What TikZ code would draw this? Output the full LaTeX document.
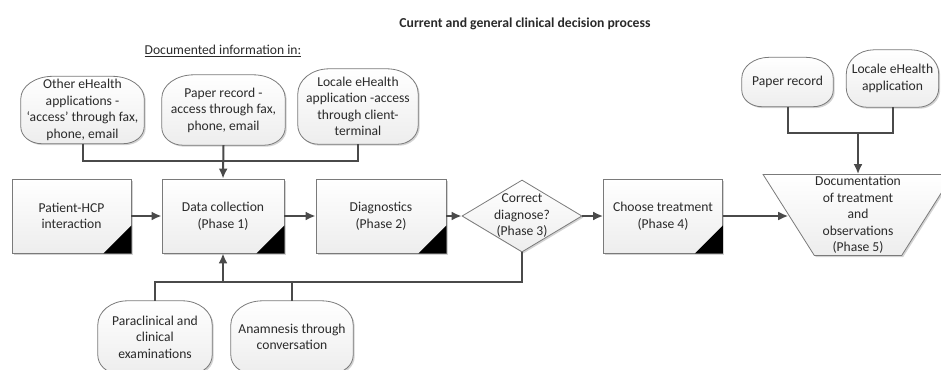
\documentclass[tikz,border=0pt]{standalone}
\usepackage{fontspec}
\setmainfont{Carlito}
\usetikzlibrary{shapes.geometric,arrows.meta,shadows,calc,backgrounds}
\definecolor{linec}{HTML}{4A4A4A}
\definecolor{edgec}{HTML}{7A7A7A}
\definecolor{txtc}{HTML}{2A2A2A}
\newcommand{\nf}{\fontsize{13.6}{16.5}\selectfont}
\tikzset{
  shpfill/.style={draw=edgec, line width=0.8pt, top color=white, bottom color=gray!14,
    drop shadow={shadow xshift=1.5pt, shadow yshift=-1.5pt, opacity=0.35, fill=gray}},
  shp/.style={shpfill, align=center, font=\nf, text=txtc, inner sep=0pt},
  procbox/.style={shp, minimum width=119, minimum height=74},
  txt/.style={align=center, font=\nf, text=txtc, inner sep=0pt},
  conn/.style={draw=linec, line width=2pt},
  arr/.style={conn, -{Latex[length=10pt,width=9pt]}}
}
% outline of a soft-cornered shape round node #1: top corner fractions #2 (x) #3 (y), bottom #4 (x) #5 (y)
\newcommand{\softshape}[5]{%
 \path[shpfill] let \p1=(#1.north west), \p2=(#1.south east), \n1={\x2-\x1}, \n2={\y1-\y2} in
 (\x1, {\y1-#3*\n2}) -- (\x1, {\y2+#5*\n2})
 .. controls (\x1, {\y2+0.448*#5*\n2}) and ({\x1+0.448*#4*\n1}, \y2) .. ({\x1+#4*\n1}, \y2)
 -- ({\x2-#4*\n1}, \y2)
 .. controls ({\x2-0.448*#4*\n1}, \y2) and (\x2, {\y2+0.448*#5*\n2}) .. (\x2, {\y2+#5*\n2})
 -- (\x2, {\y1-#3*\n2})
 .. controls (\x2, {\y1-0.448*#3*\n2}) and ({\x2-0.448*#2*\n1}, \y1) .. ({\x2-#2*\n1}, \y1)
 -- ({\x1+#2*\n1}, \y1)
 .. controls ({\x1+0.448*#2*\n1}, \y1) and (\x1, {\y1-0.448*#3*\n2}) .. (\x1, {\y1-#3*\n2}) -- cycle;
}
\begin{document}
\begin{tikzpicture}[x=1pt,y=-1pt]
\useasboundingbox (0,0) rectangle (941,369);
\clip (0,0) rectangle (941,369);
% title
\node[font=\fontsize{13.7}{16}\selectfont\bfseries, text=txtc, inner sep=0pt] (title) at (525,24) {Current and general clinical decision process};
\node[txt] (docinfo) at (223,51) {\underline{Documented information in:}};
% process boxes
\node[procbox] (phc) at (71.5,216) {Patient-HCP\\interaction};
\node[procbox, minimum width=122] (dc) at (223,216) {Data collection\\(Phase 1)};
\node[procbox, minimum width=130] (dg) at (381,216) {Diagnostics\\(Phase 2)};
\node[procbox] (ct) at (663,216) {Choose treatment\\(Phase 4)};
\foreach \b in {phc,dc,dg,ct}{
  \fill[black] (\b.south east) -- ++(-28,0) -- ++(28,-28) -- cycle;
}
% decision
\node[shp, diamond, inner sep=2pt, minimum width=120, minimum height=72] (dia) at (522,216) {};
\node[txt] (diat) at (522,216) {Correct\\diagnose?\\(Phase 3)};
% documentation trapezium
\node[shp, trapezium, inner sep=3pt, trapezium stretches=true, shape border rotate=180,
  trapezium left angle=59.6, trapezium right angle=59.6,
  minimum width=190, minimum height=81] (doc) at (858,215) {};
\node[txt] (doct) at (858,215) {Documentation\\of treatment\\and\\observations\\(Phase 5)};
% documented information sources (text nodes; outlines drawn behind)
\node[txt, minimum width=123, minimum height=67] (oeh) at (82.5,110) {Other eHealth\\applications -\\‘access’ through fax,\\phone, email};
\node[txt, minimum width=123, minimum height=70] (pr) at (223.5,110) {Paper record -\\access through fax,\\phone, email};
\node[txt, minimum width=120, minimum height=75] (leh) at (358,106.5) {Locale eHealth\\application -access\\through client-\\terminal};
\node[txt, minimum width=114, minimum height=72] (para) at (155,337) {Paraclinical and\\clinical\\examinations};
\node[txt, minimum width=122, minimum height=72] (anam) at (292,337) {Anamnesis through\\conversation};
\node[txt, minimum width=91, minimum height=49] (pr2) at (787.5,82) {Paper record};
\node[txt, minimum width=92, minimum height=57] (leh2) at (892.5,78.5) {Locale eHealth\\application};
\begin{scope}[on background layer]
  \softshape{oeh}{0.26}{0.33}{0.17}{0.25}
  \softshape{pr}{0.26}{0.33}{0.17}{0.25}
  \softshape{leh}{0.26}{0.33}{0.17}{0.25}
  \softshape{para}{0.26}{0.33}{0.17}{0.25}
  \softshape{anam}{0.26}{0.33}{0.17}{0.25}
  \softshape{pr2}{0.3}{0.42}{0.22}{0.33}
  \softshape{leh2}{0.3}{0.42}{0.22}{0.33}
\end{scope}
% connectors
\coordinate (jt) at (223,161);
\coordinate (jb) at (223,282);
\coordinate (jr) at (858,133);
\draw[conn] (oeh.south) |- (jt);
\draw[conn] (leh.south) |- (jt);
\draw[arr] (pr.south) -- (dc.north);
\draw[conn] (para.north) |- (jb);
\draw[conn] (anam.north) |- (jb);
\draw[conn] (dia.south) |- (jb);
\draw[arr] (jb) -- (dc.south);
\draw[arr] (phc.east) -- (dc.west);
\draw[arr] (dc.east) -- (dg.west);
\draw[arr] (dg.east) -- (dia.west);
\draw[arr] (dia.east) -- (ct.west);
\draw[arr] (ct.east) -- (ct.east -| doc.west);
\draw[conn] (pr2.south) |- (jr);
\draw[conn] (leh2.south) |- (jr);
\draw[arr] (jr) -- (doc.north);
\end{tikzpicture}
\end{document}
